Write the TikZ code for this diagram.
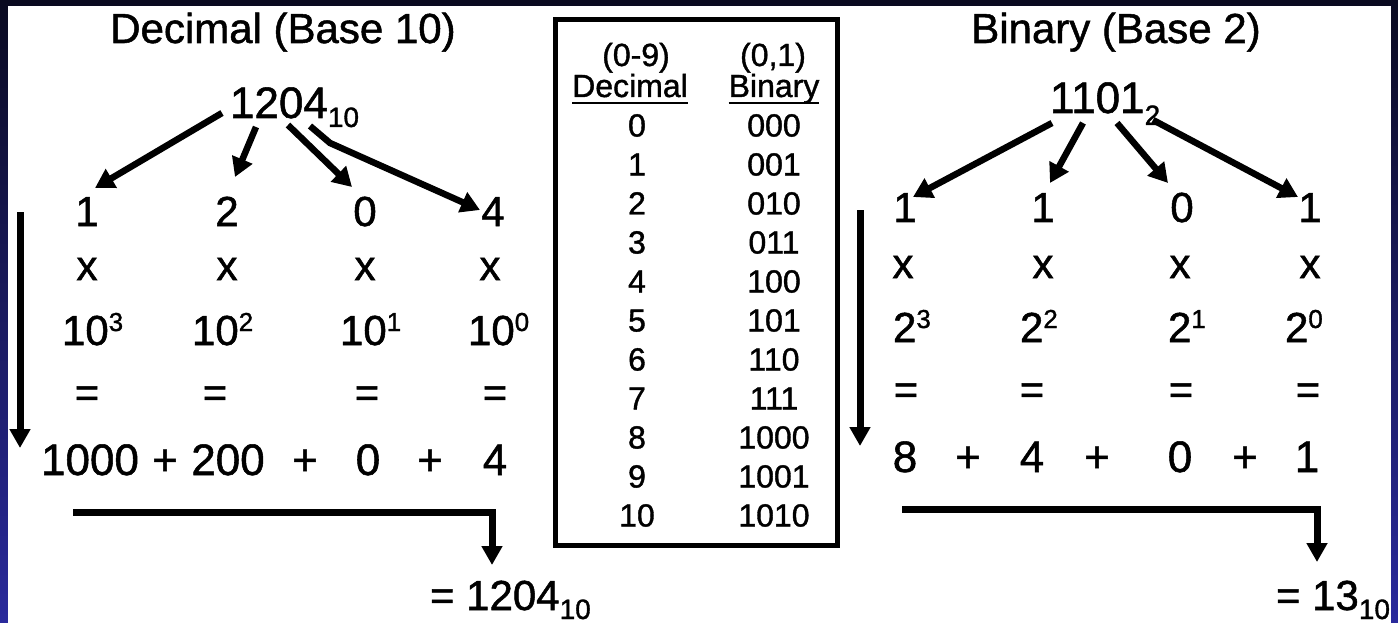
\documentclass[tikz,border=0pt]{standalone}
\usepackage{fontspec}
\setmainfont[FakeBold=1.2]{Liberation Sans}
\usetikzlibrary{arrows.meta}

\definecolor{slidetop}{RGB}{10,10,32}
\definecolor{slidebot}{RGB}{42,42,156}

% subscript / superscript digits
\newcommand\subnum[2][-9pt]{\raisebox{#1}{\fontsize{28}{30}\selectfont #2}}
\newcommand\supnum[1]{\raisebox{14pt}{\fontsize{26}{28}\selectfont #1}}

\begin{document}
\begin{tikzpicture}[x=1pt, y=-1pt, line join=miter,
  every node/.style={inner sep=0pt, outer sep=0pt},
  ttl/.style={font=\fontsize{42}{46}\selectfont, anchor=base},
  topnum/.style={font=\fontsize{44}{48}\selectfont, anchor=base west},
  num/.style={font=\fontsize{42}{46}\selectfont, anchor=base},
  pow/.style={font=\fontsize{42}{46}\selectfont, anchor=base west},
  sumnum/.style={font=\fontsize{44}{48}\selectfont, anchor=base},
  tab/.style={font=\fontsize{32}{36}\selectfont, anchor=base},
  uline/.style={line width=2.5pt},
  arr/.style={line width=6.5pt, -{Triangle[length=19pt, width=21pt]}},
  bar/.style={line width=7pt, -{Triangle[length=19pt, width=20pt]}}]

% ----------------------------
% SLIDE BACKGROUND
% ----------------------------
\useasboundingbox (0,0) rectangle (1398,623);
\shade[top color=slidetop, bottom color=slidebot] (0,0) rectangle (1398,623);
\fill[white] (8,6) rectangle (1391,623);

% ----------------------------
% DECIMAL SIDE
% ----------------------------
\node[ttl] (decT) at (283,43) {Decimal (Base 10)};
\node[topnum] (dec) at (230,118) {1204\subnum{10}};

\node[num] (d1) at (87,226)  {1};
\node[num] (d2) at (227,226) {2};
\node[num] (d3) at (365,226) {0};
\node[num] (d4) at (493,226) {4};

\node[num] (dx1) at (87,280)  {x};
\node[num] (dx2) at (227,280) {x};
\node[num] (dx3) at (365,280) {x};
\node[num] (dx4) at (490,280) {x};

\node[pow] (dp1) at (62,345)  {10\supnum{3}};
\node[pow] (dp2) at (192,345) {10\supnum{2}};
\node[pow] (dp3) at (340,345) {10\supnum{1}};
\node[pow] (dp4) at (468,345) {10\supnum{0}};

\node[num] (de1) at (87,407)  {=};
\node[num] (de2) at (215,407) {=};
\node[num] (de3) at (367,407) {=};
\node[num] (de4) at (495,407) {=};

\node[sumnum] (ds1) at (90,475)  {1000};
\node[sumnum] (dplus1) at (165,475) {+};
\node[sumnum] (ds2) at (228,475) {200};
\node[sumnum] (dplus2) at (305,475) {+};
\node[sumnum] (ds3) at (368,475) {0};
\node[sumnum] (dplus3) at (430,475) {+};
\node[sumnum] (ds4) at (495,475) {4};

\node[num, anchor=base west] (decR) at (430,610) {= 1204\subnum{10}};

% arrows out of 1204
\coordinate (decA1) at (222,113); \coordinate (decB1) at (95,188);
\coordinate (decA2) at (256,127); \coordinate (decB2) at (235,177);
\coordinate (decA3) at (288,125); \coordinate (decB3) at (352,187);
\coordinate (decA4) at (310,126); \coordinate (decK4) at (330,143);
\coordinate (decB4) at (480,210);
\draw[arr] (decA1) -- (decB1);
\draw[arr] (decA2) -- (decB2);
\draw[arr] (decA3) -- (decB3);
\draw[arr] (decA4) -- (decK4) -- (decB4);

% reading direction and total
\coordinate (decV1) at (20,212);  \coordinate (decV2) at (20,448);
\coordinate (decH1) at (73,512);  \coordinate (decH2) at (492,565);
\draw[bar] (decV1) -- (decV2);
\draw[bar] (decH1) -| (decH2);

% ----------------------------
% TABLE
% ----------------------------
\draw[line width=5pt] (555,20) rectangle (837,545);
\node[tab] (hd1) at (636,66) {(0-9)};
\node[tab] (hb1) at (773,66) {(0,1)};
\node[tab] (hd2) at (630,97) {Decimal};
\node[tab] (hb2) at (774,97) {Binary};
\draw[uline] ([yshift=-6pt]hd2.base west) -- ([yshift=-6pt]hd2.base east);
\draw[uline] ([yshift=-6pt]hb2.base west) -- ([yshift=-6pt]hb2.base east);
\foreach \d/\b [count=\k from 0] in {0/000,1/001,2/010,3/011,4/100,5/101,
    6/110,7/111,8/1000,9/1001,10/1010}
{
  \node[tab] (tdec\k) at (637,{136.5+39*\k}) {\d};
  \node[tab] (tbin\k) at (774,{136.5+39*\k}) {\b};
}

% ----------------------------
% BINARY SIDE
% ----------------------------
\node[ttl] (binT) at (1116,43) {Binary (Base 2)};
\node[topnum] (bin) at (1050,113) {1101\subnum[-12pt]{2}};

\node[num] (b1) at (905,222)  {1};
\node[num] (b2) at (1043,222) {1};
\node[num] (b3) at (1182,222) {0};
\node[num] (b4) at (1310,222) {1};

\node[num] (bx1) at (903,278)  {x};
\node[num] (bx2) at (1043,278) {x};
\node[num] (bx3) at (1180,278) {x};
\node[num] (bx4) at (1310,278) {x};

\node[pow] (bp1) at (893,342)  {2\supnum{3}};
\node[pow] (bp2) at (1020,342) {2\supnum{2}};
\node[pow] (bp3) at (1168,342) {2\supnum{1}};
\node[pow] (bp4) at (1285,342) {2\supnum{0}};

\node[num] (be1) at (906,404)  {=};
\node[num] (be2) at (1032,404) {=};
\node[num] (be3) at (1181,404) {=};
\node[num] (be4) at (1308,404) {=};

\node[sumnum] (bs1) at (905,472)  {8};
\node[sumnum] (bplus1) at (968,472) {+};
\node[sumnum] (bs2) at (1032,472) {4};
\node[sumnum] (bplus2) at (1097,472) {+};
\node[sumnum] (bs3) at (1180,472) {0};
\node[sumnum] (bplus3) at (1245,472) {+};
\node[sumnum] (bs4) at (1307,472) {1};

\node[num, anchor=base east] (binR) at (1390,610) {= 13\subnum{10}};

% arrows out of 1101
\coordinate (binA1) at (1052,123); \coordinate (binB1) at (913,197);
\coordinate (binA2) at (1083,123); \coordinate (binB2) at (1050,183);
\coordinate (binA3) at (1117,123); \coordinate (binB3) at (1168,183);
\coordinate (binA4) at (1153,120); \coordinate (binB4) at (1298,197);
\draw[arr] (binA1) -- (binB1);
\draw[arr] (binA2) -- (binB2);
\draw[arr] (binA3) -- (binB3);
\draw[arr] (binA4) -- (binB4);

% reading direction and total
\coordinate (binV1) at (860,210);  \coordinate (binV2) at (860,446);
\coordinate (binH1) at (902,509);  \coordinate (binH2) at (1317,562);
\draw[bar] (binV1) -- (binV2);
\draw[bar] (binH1) -| (binH2);

\end{tikzpicture}
\end{document}
